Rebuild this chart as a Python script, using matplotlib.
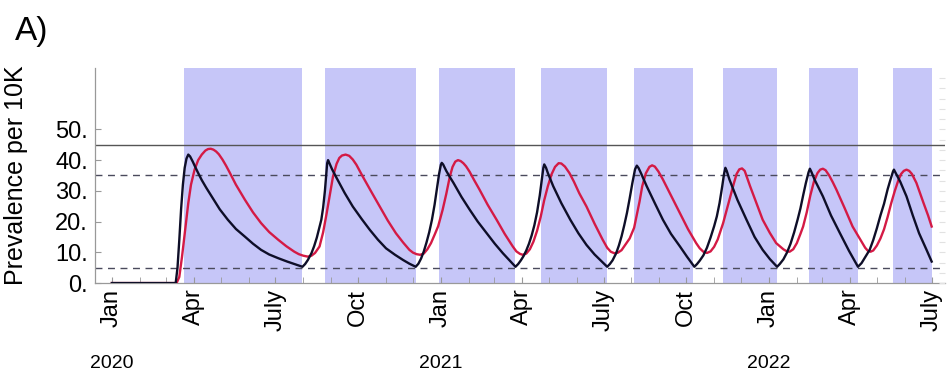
import matplotlib
matplotlib.use("Agg")
import matplotlib.pyplot as plt
import matplotlib.dates as mdates
from matplotlib.ticker import FuncFormatter
import numpy as np
import pandas as pd

plt.rcParams["font.family"] = ["Liberation Sans", "DejaVu Sans"]

START = pd.Timestamp("2020-01-01")

# prevalence curves (x = days since 2020-01-01)
black_days = [0, 71, 73, 75, 77, 79, 81, 83, 85, 87, 90, 93, 96, 100, 105, 111, 120, 129, 138, 148, 157, 166,
              175, 185, 195, 204, 212,
              215, 218, 222, 225, 228, 231, 233, 235, 237, 238.5, 239.5, 240.5,
              242, 245, 250, 259, 268, 278, 287, 296, 305, 315, 324, 331, 338,
              341, 344, 347, 350, 353, 356, 359, 362, 364, 366, 367,
              368.5, 372, 376, 380, 389, 398, 407, 417, 426, 435, 442, 449,
              452, 455, 458, 461, 464, 467, 470, 473, 476, 478, 480, 481,
              483, 485, 491, 500, 510, 519, 528, 537, 545, 551,
              554, 557, 561, 564, 567, 570, 573, 576, 579, 582, 584,
              586, 589, 595, 604, 613, 622, 632, 640, 648,
              651, 654, 658, 662, 666, 670, 673, 676, 679, 681, 682.5,
              684, 687, 696, 706, 715, 724, 732, 740,
              743, 747, 751, 755, 759, 763, 766, 769, 772, 775, 776.5,
              778, 782, 791, 800, 810, 820, 830,
              834, 838, 843, 847, 851, 855, 859, 863, 866, 869, 870,
              872, 877, 884, 891, 898, 906, 912]
black_vals = [0, 0, 5, 14, 24, 32, 37.5, 40.5, 41.8, 41.2, 39.5, 37.6, 35.8, 33.5, 31, 28.2, 24, 20.6, 17.6, 15.1,
              12.8, 10.8, 9.3, 8.1, 7, 6.1, 5.3,
              6.2, 7.5, 9.7, 12, 14.8, 18.2, 20.6, 24.5, 30, 35.5, 39, 40,
              39, 37, 34.2, 29.3, 24.9, 20.8, 17.3, 14.1, 11.3, 9.2, 7.5, 6.3, 5.3,
              6.3, 8, 10.3, 13.2, 16.5, 20.5, 25.5, 31.5, 35.5, 38.5, 39.1,
              38.6, 36.5, 34.5, 32.6, 28, 23.9, 20, 16.2, 12.8, 9.7, 7.5, 5.3,
              6.2, 7.4, 8.8, 10.6, 12.8, 15.5, 18.8, 23, 28.5, 33, 37.5, 38.6,
              37.5, 35.8, 31.5, 26, 20.6, 16.2, 12.4, 9.3, 7, 5.3,
              6.2, 7.4, 9.7, 12.2, 15.2, 18.8, 22.8, 27.5, 32.5, 37, 38.2,
              37.4, 35.5, 31.5, 26, 20.6, 16, 11.9, 8.5, 5.3,
              6.2, 7.3, 9, 11.5, 14.8, 18.5, 21.7, 26, 31.5, 35.5, 37.5,
              36.5, 33.7, 27, 20.6, 15, 10.8, 7.8, 5.3,
              6.2, 7.7, 9.9, 12.8, 16.5, 20.8, 24.3, 28.5, 32.5, 36, 37.2,
              36.3, 33.5, 28.2, 22, 16.2, 10.5, 5.3,
              6.5, 8.4, 10.8, 14, 17.8, 22, 25.8, 30.5, 33.5, 36.3, 36.9,
              35.8, 33, 28.2, 22, 16.2, 11, 7]

red_days = [0, 72, 75, 78, 81, 85, 88, 92, 96, 100, 104, 107, 110, 113, 116, 119, 123, 127, 131, 138, 148, 157,
            166, 175, 185, 194, 203, 208, 213, 218, 222, 226, 231, 235, 239, 243, 246, 250, 253, 256, 260,
            264, 268, 272, 279, 289, 298, 307, 316, 324, 331, 335, 339, 343,
            347, 351, 355, 359, 363, 368, 372, 376, 379, 382, 385,
            388, 391, 394, 398, 403, 409, 418, 428, 437, 446, 450, 454, 457,
            461, 465, 469, 473, 477, 481, 485, 489, 493, 497,
            500, 504, 509, 514, 520, 528, 537, 546, 551, 555, 559,
            563, 567, 571, 576, 581, 587, 590, 594, 598, 601,
            604, 608, 613, 622, 632, 641, 650, 654, 658, 662,
            666, 670, 674, 680, 687, 692, 695, 698, 701,
            704, 710, 717, 724, 732, 739, 747, 751, 754,
            758, 762, 766, 769, 773, 777, 781, 785, 788, 791,
            794, 798, 802, 806, 815, 824, 834, 838, 841, 844,
            847, 851, 855, 859, 863, 867, 871, 875, 878, 881, 884,
            887, 890, 895, 903, 908, 912]
red_vals = [0, 0, 2, 8.5, 16, 26, 32, 36.9, 40, 41.8, 43.1, 43.6, 43.7, 43.4, 42.8, 41.9, 40.2, 38.2, 36, 32,
            27.1, 23, 19.5, 16.6, 14.1, 12, 10.2, 9.4, 8.9, 8.6, 8.9, 9.8, 11.9, 16.5, 22.8, 29.5, 34.7, 38.8,
            40.7, 41.5, 41.8,
            41.4, 40.2, 38.5, 34.7, 29.5, 24.9, 20.3, 16.2, 13.2, 10.8, 9.9, 9.4, 9.2,
            9.6, 11, 13, 15.7, 18.5, 23.9, 29, 34.7, 37.8, 39.5, 40,
            39.7, 39, 38, 36.2, 33.5, 30.4, 25.5, 20.6, 16, 11.9, 10.3, 9.5, 9.2,
            9.6, 11, 13.5, 17, 21.5, 27, 31.5, 35.3, 37.8, 39,
            38.9, 37.9, 35.8, 33, 29.2, 24.9, 19.3, 14.1, 11.5, 10.2, 9.7,
            9.9, 10.7, 12.4, 14.5, 18, 26.5, 31.5, 35.7, 37.8, 38.3,
            37.9, 36.3, 33.7, 28.5, 22.8, 17.5, 13, 11.3, 10.2, 9.8,
            10.3, 11.8, 14.2, 19.5, 27.1, 32.5, 35.5, 37, 37.3,
            36.5, 31.5, 26, 20.6, 16.3, 13, 11, 10.3, 10.2,
            11, 13, 16, 18.4, 23, 28.5, 33, 35.8, 36.9, 37.2,
            36.7, 35, 32.8, 30.4, 24.5, 18.4, 13.5, 11.5, 10.5, 10.2,
            10.6, 12.2, 14.5, 17.5, 21.5, 26, 30, 33.5, 35.5, 36.5, 36.9,
            36.5, 35.5, 32.6, 26, 22, 18.4]

# shaded intervention periods (days since 2020-01-01)
shade_start = [80, 237, 364, 477, 581, 680, 775, 869]
shade_end = [212, 338, 449, 551, 647, 740, 830, 912]

upper_line = 45
dashed_levels = [35, 5]
month_names = {1: "Jan", 4: "Apr", 7: "July", 10: "Oct"}
years = [2020, 2021, 2022]


def to_dates(days):
    return START + pd.to_timedelta(np.asarray(days, dtype=float), unit="D")


fig = plt.figure(figsize=(9.48, 3.71), dpi=100)
ax = fig.add_axes([0.100, 0.237, 0.897, 0.580])

for a, b in zip(to_dates(shade_start), to_dates(shade_end)):
    ax.axvspan(a, b, color="#c6c6f8", lw=0, zorder=0)

ax.axhline(upper_line, color="#555555", lw=1.0, zorder=1)
for lev in dashed_levels:
    ax.axhline(lev, color="#4a4a5c", lw=1.0, dashes=(5, 4), zorder=1)

ax.plot(to_dates(red_days), red_vals, color="#d41a45", lw=1.7, zorder=3,
        solid_joinstyle="round")
ax.plot(to_dates(black_days), black_vals, color="#0e0e28", lw=1.7, zorder=4,
        solid_joinstyle="round")

ax.set_xlim(START - pd.Timedelta(days=19), START + pd.Timedelta(days=927))
ax.set_ylim(0, 70)

ax.set_yticks([0, 10, 20, 30, 40, 50])
ax.yaxis.set_major_formatter(FuncFormatter(lambda v, _: f"{int(v)}."))
ax.xaxis.set_major_locator(mdates.MonthLocator(bymonth=[1, 4, 7, 10]))
ax.xaxis.set_minor_locator(mdates.MonthLocator())
ax.xaxis.set_major_formatter(FuncFormatter(lambda v, _: month_names[mdates.num2date(v).month]))

for side in ("top", "right"):
    ax.spines[side].set_visible(False)
for side in ("left", "bottom"):
    ax.spines[side].set_color("#999999")
    ax.spines[side].set_linewidth(0.9)

ax.tick_params(axis="y", direction="in", length=4, color="#999999", labelsize=17, pad=5)
ax.tick_params(axis="x", which="both", direction="in", length=4, color="#999999")
ax.tick_params(axis="x", labelsize=17, labelrotation=90, pad=4)

ax.set_ylabel("Prevalence per 10K", fontsize=18)
ax.yaxis.set_label_coords(-0.079, 0.5)

# faint ticks on the right edge
ax2 = ax.twinx()
ax2.set_ylim(0, 70)
ax2.set_yticks(np.arange(0, 70, 10 / 3))
ax2.tick_params(axis="y", direction="in", length=4, color="#e2e2e2", labelright=False)
for s in ax2.spines.values():
    s.set_visible(False)

for y in years:
    ax.text(pd.Timestamp(f"{y}-01-01"), -0.375, str(y), transform=ax.get_xaxis_transform(),
            ha="center", va="center", fontsize=14)

fig.text(0.016, 0.915, "A)", fontsize=24, ha="left", va="center")

fig.savefig("out.png", dpi=100)
